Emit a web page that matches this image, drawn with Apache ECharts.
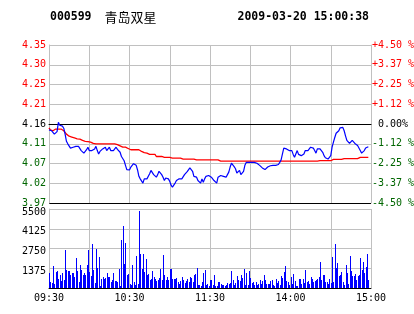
<!DOCTYPE html>
<html><head><meta charset="utf-8">
<script src="https://cdn.jsdelivr.net/npm/echarts@6/dist/echarts.min.js"></script>
<style>html,body{margin:0;padding:0;background:#fff;}#c{width:414px;height:314px;}</style>
</head><body><div id="c"></div>
<script>
const stockCode = '000599';
const stockName = '青岛双星';
const stamp = '2009-03-20 15:00:38';
const prevClose = 4.16;
const timeTickLabels = ['09:30','','10:30','','11:30','','14:00','','15:00'];
const priceTickLabels = ['3.97','4.02','4.07','4.11','4.16','4.21','4.25','4.30','4.35'];
const pctTickLabels = ['-4.50 %','-3.37 %','-2.25 %','-1.12 %',' 0.00%','+1.12 %','+2.25 %','+3.37 %','+4.50 %'];
const volTickLabels = ['','1375','2750','4125','5500'];

// minute prices (index = minute since 09:30, trading minutes only)
const price = [
4.146,4.146,4.144,4.143,4.136,4.140,4.142,4.164,4.157,4.156,
4.155,4.150,4.136,4.119,4.113,4.109,4.103,4.099,4.105,4.107,
4.107,4.107,4.107,4.103,4.097,4.095,4.091,4.091,4.099,4.105,
4.097,4.097,4.097,4.097,4.101,4.107,4.097,4.089,4.095,4.093,
4.101,4.097,4.105,4.097,4.097,4.105,4.097,4.097,4.097,4.097,
4.105,4.100,4.097,4.093,4.083,4.080,4.073,4.062,4.052,4.051,
4.051,4.058,4.062,4.066,4.068,4.062,4.051,4.036,4.030,4.026,
4.020,4.030,4.030,4.030,4.034,4.042,4.050,4.046,4.040,4.036,
4.034,4.040,4.048,4.048,4.040,4.034,4.026,4.032,4.030,4.030,
4.024,4.015,4.010,4.015,4.020,4.026,4.030,4.030,4.030,4.030,
4.034,4.040,4.044,4.047,4.046,4.056,4.059,4.048,4.036,4.032,
4.034,4.026,4.026,4.020,4.030,4.022,4.030,4.036,4.038,4.038,
4.038,4.034,4.032,4.026,4.026,4.020,4.034,4.038,4.038,4.038,
4.036,4.034,4.034,4.040,4.046,4.058,4.067,4.066,4.059,4.054,
4.044,4.046,4.050,4.040,4.038,4.048,4.062,4.069,4.069,4.069,
4.069,4.069,4.067,4.069,4.069,4.067,4.063,4.062,4.059,4.056,
4.054,
4.052,4.054,4.058,4.054,4.061,4.064,4.062,4.059,4.062,4.059,
4.064,4.069,4.075,4.089,4.103,4.106,4.101,4.097,4.097,4.095,
4.097,4.088,4.081,4.085,4.097,4.088,4.088,4.085,4.088,4.089,
4.097,4.097,4.097,4.101,4.105,4.105,4.103,4.097,4.091,4.101,
4.097,4.101,4.103,4.093,4.085,4.080,4.077,4.077,4.077,4.085,
4.105,4.117,4.128,4.138,4.140,4.144,4.151,4.154,4.152,4.144,
4.132,4.121,4.117,4.114,4.117,4.121,4.117,4.114,4.111,4.109,
4.103,4.097,4.091,4.091,4.097,4.103,4.106,4.106
];
const avgPrice = [
4.151,4.146,4.145,4.144,4.143,4.148,4.148,4.148,4.148,4.148,
4.148,4.144,4.140,4.136,4.133,4.131,4.130,4.129,4.127,4.127,
4.125,4.125,4.124,4.124,4.121,4.121,4.119,4.119,4.118,4.118,
4.117,4.117,4.114,4.114,4.114,4.113,4.113,4.113,4.113,4.113,
4.113,4.113,4.113,4.113,4.113,4.113,4.113,4.113,4.113,4.113,
4.113,4.111,4.111,4.108,4.108,4.105,4.105,4.105,4.102,4.102,
4.102,4.099,4.099,4.099,4.099,4.099,4.099,4.099,4.095,4.095,
4.092,4.092,4.091,4.091,4.088,4.088,4.088,4.088,4.088,4.088,
4.083,4.083,4.083,4.083,4.083,4.083,4.081,4.081,4.081,4.081,
4.081,4.081,4.079,4.079,4.079,4.079,4.079,4.079,4.079,4.077,
4.077,4.077,4.077,4.077,4.077,4.077,4.077,4.077,4.077,4.077,
4.075,4.075,4.075,4.075,4.075,4.075,4.075,4.075,4.075,4.075,
4.075,4.075,4.075,4.075,4.075,4.075,4.075,4.072,4.072,4.072,
4.072,4.072,4.072,4.072,4.072,4.072,4.072,4.072,4.072,4.072,
4.072,4.072,4.072,4.072,4.072,4.072,4.072,4.072,4.072,4.072,
4.072,4.072,4.072,4.072,4.072,4.072,4.072,4.072,4.072,4.072,
4.072,4.072,4.072,4.072,4.072,4.072,4.072,4.072,4.072,4.072,
4.072,4.072,4.072,4.072,4.072,4.072,4.072,4.072,4.072,4.072,
4.072,4.072,4.072,4.072,4.072,4.072,4.072,4.072,4.072,4.072,
4.072,4.072,4.072,4.072,4.072,4.072,4.072,4.072,4.072,4.072,
4.072,4.073,4.073,4.073,4.073,4.073,4.073,4.073,4.073,4.073,
4.073,4.076,4.076,4.076,4.076,4.076,4.076,4.076,4.076,4.078,
4.078,4.078,4.078,4.078,4.078,4.078,4.078,4.078,4.078,4.078,
4.078,4.081,4.081,4.081,4.081,4.081,4.081,4.081,4.081
];
const volume = [
1044,418,348,1554,278,1090,1206,650,928,510,
1044,580,2668,1276,1206,1206,928,1044,1044,742,
2088,1206,418,1624,1276,928,1044,928,1624,2668,
1090,812,3062,1276,348,2738,1392,2158,162,650,
766,650,696,1044,742,789,418,580,1044,464,
510,394,1346,162,3364,4338,1670,3132,928,998,
278,232,1624,418,186,2250,278,5382,2366,1322,
2366,1114,2042,882,998,580,650,1206,742,603,
510,580,696,1322,580,2320,928,580,742,580,
1322,1322,650,650,650,696,418,278,510,766,
580,348,510,650,394,766,696,418,928,974,
1392,232,232,116,418,1044,1276,232,278,116,
580,
580,186,928,162,116,418,418,278,186,232,
116,186,325,278,348,1206,580,232,348,858,
580,464,928,696,1346,232,1044,232,1206,696,
348,418,232,418,232,278,580,302,464,928,
580,302,302,302,510,580,186,116,650,348,
510,232,812,696,1090,1554,510,394,232,742,
278,974,510,162,116,650,650,278,650,348,
1276,418,510,278,742,650,418,510,580,650,
742,
1810,580,928,928,418,418,278,650,348,2158,
418,3062,1392,1740,858,928,1114,418,232,1624,
1044,302,2250,1206,858,812,998,580,858,928,
2088,1276,1810,1044,1438,2390,580
];

const toPct = p => (p / prevClose - 1) * 100;
const pctIdx = v => Math.round((v + 4.5) / 1.125);
const sideColor = i => i > 4 ? '#ff0000' : (i < 4 ? '#006600' : '#000000');
const mono = '"DejaVu Sans Mono", monospace';
const GRAY = '#c0c0c0';

const chart = echarts.init(document.getElementById('c'), null, {renderer: 'canvas'});
chart.setOption({
  animation: false,
  backgroundColor: '#fff',
  graphic: [
    {type: 'text', x: 50, y: 17, style: {text: stockCode, font: 'bold 11.5px ' + mono, fill: '#000', verticalAlign: 'middle'}},
    {type: 'text', x: 104.5, y: 17, style: {text: stockName, font: '13px "Noto Sans CJK SC"', fill: '#000', verticalAlign: 'middle'}},
    {type: 'text', x: 237.5, y: 17, style: {text: stamp, font: 'bold 11.5px ' + mono, fill: '#000', verticalAlign: 'middle'}}
  ],
  grid: [
    {left: 49, right: 43, top: 45, height: 158, outerBoundsMode: 'none'},
    {left: 49, right: 43, top: 209, height: 79, outerBoundsMode: 'none'}
  ],
  xAxis: [
    {type: 'value', gridIndex: 0, min: 0, max: 240, interval: 30,
     axisLine: {show: true, lineStyle: {color: '#000', width: 1}}, axisTick: {show: false},
     axisLabel: {show: false}, splitLine: {show: true, lineStyle: {color: GRAY, width: 1}}},
    {type: 'value', gridIndex: 1, min: 0, max: 240, interval: 30,
     axisLine: {show: true, lineStyle: {color: '#000', width: 1}}, axisTick: {show: false},
     axisLabel: {show: true, margin: 5, color: '#000', fontFamily: mono, fontSize: 10,
       formatter: v => timeTickLabels[Math.round(v / 30)] || ''},
     splitLine: {show: true, lineStyle: {color: GRAY, width: 1}}}
  ],
  yAxis: [
    {type: 'value', gridIndex: 0, min: -4.5, max: 4.5, interval: 1.125, position: 'left',
     axisLine: {show: true, lineStyle: {color: GRAY}}, axisTick: {show: false},
     axisLabel: {margin: 3, fontFamily: mono, fontSize: 10,
       formatter: v => priceTickLabels[pctIdx(v)],
       color: (v) => sideColor(pctIdx(typeof v === 'string' ? parseFloat(v) : v))},
     splitLine: {show: true, lineStyle: {width: 1, color: ['#000', GRAY, GRAY, GRAY, '#000', GRAY, GRAY, GRAY, GRAY]}}},
    {type: 'value', gridIndex: 0, min: -4.5, max: 4.5, interval: 1.125, position: 'right',
     axisLine: {show: true, lineStyle: {color: GRAY}}, axisTick: {show: false},
     axisLabel: {margin: 1, align: 'left', fontFamily: mono, fontSize: 10,
       formatter: v => pctTickLabels[pctIdx(v)],
       color: (v) => sideColor(pctIdx(typeof v === 'string' ? parseFloat(v) : v))},
     splitLine: {show: false}},
    {type: 'value', gridIndex: 1, min: 0, max: 5500, interval: 1375, position: 'left',
     axisLine: {show: true, lineStyle: {color: GRAY}}, axisTick: {show: false},
     axisLabel: {margin: 3, color: '#000', fontFamily: mono, fontSize: 10,
       formatter: v => {
         const t = volTickLabels[Math.round(v / 1375)];
         return t ? '{v|' + t + '}' : '';
       },
       rich: {v: {fontFamily: mono, fontSize: 10, color: '#000', padding: [6, 0, 0, 0]}}},
     splitLine: {show: true, lineStyle: {color: GRAY, width: 1}}}
  ],
  series: [
    {type: 'custom', xAxisIndex: 1, yAxisIndex: 2, silent: true,
     encode: {x: 0, y: 1},
     data: volume.map((v, i) => [i, v]),
     renderItem: (params, api) => {
       const top = api.coord([api.value(0), api.value(1)]);
       const base = api.coord([api.value(0), 0]);
       const x = Math.round(top[0]);
       return {type: 'rect', shape: {x: x, y: Math.round(top[1]), width: 1, height: Math.round(base[1]) - Math.round(top[1])},
               style: {fill: '#0000ff'}};
     }},
    {type: 'line', xAxisIndex: 0, yAxisIndex: 0, showSymbol: false, symbol: 'none',
     lineStyle: {color: '#ff0000', width: 1.3}, data: avgPrice.map((p, i) => [i, toPct(p)]), silent: true, z: 3},
    {type: 'line', xAxisIndex: 0, yAxisIndex: 0, showSymbol: false, symbol: 'none',
     lineStyle: {color: '#0000ff', width: 1.2}, data: price.map((p, i) => [i, toPct(p)]), silent: true, z: 4}
  ]
});
</script></body></html>
